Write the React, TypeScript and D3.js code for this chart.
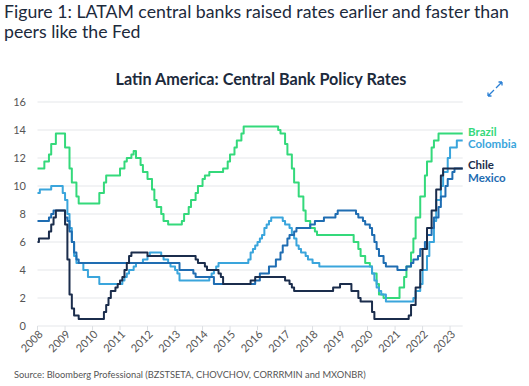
import { useRef, useEffect } from 'react';
import * as d3 from 'd3';

type Step = [string, number];

const brazil: Step[] = [
    ['2008-01', 11.25], ['2008-04', 11.75], ['2008-06', 12.25], ['2008-07', 13.0], ['2008-09', 13.75],
    ['2009-01', 12.75], ['2009-03', 11.25], ['2009-04', 10.25], ['2009-06', 9.25], ['2009-07', 8.75],
    ['2010-04', 9.5], ['2010-06', 10.25], ['2010-07', 10.75], ['2011-01', 11.25], ['2011-03', 11.75],
    ['2011-04', 12.0], ['2011-06', 12.25], ['2011-07', 12.5], ['2011-08', 12.0], ['2011-10', 11.5],
    ['2011-11', 11.0], ['2012-01', 10.5], ['2012-03', 9.75], ['2012-04', 9.0], ['2012-05', 8.5],
    ['2012-07', 8.0], ['2012-08', 7.5], ['2012-10', 7.25], ['2013-04', 7.5], ['2013-05', 8.0],
    ['2013-07', 8.5], ['2013-08', 9.0], ['2013-10', 9.5], ['2013-11', 10.0], ['2014-01', 10.5],
    ['2014-02', 10.75], ['2014-04', 11.0], ['2014-10', 11.25], ['2014-12', 11.75], ['2015-01', 12.25],
    ['2015-03', 12.75], ['2015-04', 13.25], ['2015-06', 13.75], ['2015-07', 14.25], ['2016-10', 14.0],
    ['2016-11', 13.75], ['2017-01', 13.0], ['2017-02', 12.25], ['2017-04', 11.25], ['2017-05', 10.25],
    ['2017-07', 9.25], ['2017-09', 8.25], ['2017-10', 7.5], ['2017-12', 7.0], ['2018-02', 6.75],
    ['2018-03', 6.5], ['2019-07', 6.0], ['2019-09', 5.5], ['2019-10', 5.0], ['2019-12', 4.5],
    ['2020-02', 4.25], ['2020-03', 3.75], ['2020-05', 3.0], ['2020-06', 2.25], ['2020-08', 2.0],
    ['2021-03', 2.75], ['2021-05', 3.5], ['2021-06', 4.25], ['2021-08', 5.25], ['2021-09', 6.25],
    ['2021-10', 7.75], ['2021-12', 9.25], ['2022-02', 10.75], ['2022-03', 11.75], ['2022-05', 12.75],
    ['2022-06', 13.25], ['2022-08', 13.75],
];

const colombia: Step[] = [
    ['2008-01', 9.5], ['2008-02', 9.75], ['2008-07', 10.0], ['2008-12', 9.5], ['2009-01', 9.0],
    ['2009-02', 8.0], ['2009-03', 7.0], ['2009-04', 6.0], ['2009-05', 5.0], ['2009-06', 4.5],
    ['2009-09', 4.0], ['2009-11', 3.5], ['2010-04', 3.0], ['2011-02', 3.25], ['2011-03', 3.5],
    ['2011-04', 3.75], ['2011-05', 4.0], ['2011-07', 4.25], ['2011-08', 4.5], ['2011-11', 4.75],
    ['2012-01', 5.0], ['2012-02', 5.25], ['2012-07', 5.0], ['2012-08', 4.75], ['2012-10', 4.5],
    ['2012-11', 4.25], ['2013-01', 4.0], ['2013-02', 3.75], ['2013-03', 3.25], ['2014-04', 3.5],
    ['2014-05', 3.75], ['2014-06', 4.0], ['2014-07', 4.25], ['2014-08', 4.5], ['2015-09', 4.75],
    ['2015-10', 5.25], ['2015-11', 5.5], ['2015-12', 5.75], ['2016-01', 6.0], ['2016-02', 6.25],
    ['2016-03', 6.5], ['2016-04', 7.0], ['2016-05', 7.25], ['2016-06', 7.5], ['2016-07', 7.75],
    ['2016-12', 7.5], ['2017-01', 7.25], ['2017-03', 7.0], ['2017-04', 6.5], ['2017-05', 6.25],
    ['2017-06', 5.75], ['2017-07', 5.5], ['2017-08', 5.25], ['2017-10', 5.0], ['2017-11', 4.75],
    ['2018-01', 4.5], ['2018-04', 4.25], ['2020-03', 3.75], ['2020-04', 3.25], ['2020-05', 2.75],
    ['2020-06', 2.5], ['2020-07', 2.25], ['2020-09', 1.75], ['2021-09', 2.0], ['2021-10', 2.5],
    ['2021-12', 3.0], ['2022-01', 4.0], ['2022-03', 5.0], ['2022-04', 6.0], ['2022-06', 7.5],
    ['2022-07', 9.0], ['2022-09', 10.0], ['2022-10', 11.0], ['2022-12', 12.0], ['2023-01', 12.75],
    ['2023-04', 13.25],
];

const chile: Step[] = [
    ['2008-01-01', 6.0], ['2008-01-20', 6.25], ['2008-06', 6.75], ['2008-07', 7.25], ['2008-08', 7.75],
    ['2008-09', 8.25], ['2009-01', 7.25], ['2009-02', 4.75], ['2009-03', 2.25], ['2009-04', 1.25],
    ['2009-05', 0.75], ['2009-07', 0.5], ['2010-06', 1.0], ['2010-07', 1.5], ['2010-08', 2.0],
    ['2010-09', 2.5], ['2010-11', 2.75], ['2010-12', 3.0], ['2011-01', 3.25], ['2011-02', 3.5],
    ['2011-03', 4.0], ['2011-04', 4.5], ['2011-05', 5.0], ['2011-06', 5.25], ['2012-01', 5.0],
    ['2013-10', 4.75], ['2013-11', 4.5], ['2014-02', 4.25], ['2014-03', 4.0], ['2014-08', 3.75],
    ['2014-09', 3.5], ['2014-10', 3.0], ['2015-10', 3.25], ['2015-12', 3.5], ['2017-01', 3.25],
    ['2017-03', 3.0], ['2017-04', 2.75], ['2017-05', 2.5], ['2018-10', 2.75], ['2019-01', 3.0],
    ['2019-06', 2.5], ['2019-09', 2.0], ['2019-10', 1.75], ['2020-03', 1.0], ['2020-04', 0.5],
    ['2021-07', 0.75], ['2021-08', 1.5], ['2021-10', 2.75], ['2021-12', 4.0], ['2022-01', 5.5],
    ['2022-03', 7.0], ['2022-05', 8.25], ['2022-07', 9.75], ['2022-09', 10.75], ['2022-10', 11.25],
];

const mexico: Step[] = [
    ['2008-01', 7.5], ['2008-06', 7.75], ['2008-07', 8.0], ['2008-08', 8.25], ['2009-01', 7.75],
    ['2009-02', 7.5], ['2009-03', 6.75], ['2009-04', 6.0], ['2009-05', 5.25], ['2009-06', 4.75],
    ['2009-07', 4.5], ['2013-03', 4.0], ['2013-09', 3.75], ['2013-10', 3.5], ['2014-06', 3.0],
    ['2015-12', 3.25], ['2016-02', 3.75], ['2016-06', 4.25], ['2016-09', 4.75], ['2016-11', 5.25],
    ['2016-12', 5.75], ['2017-02', 6.25], ['2017-03', 6.5], ['2017-05', 6.75], ['2017-06', 7.0],
    ['2017-12', 7.25], ['2018-02', 7.5], ['2018-06', 7.75], ['2018-11', 8.0], ['2018-12', 8.25],
    ['2019-08', 8.0], ['2019-09', 7.75], ['2019-11', 7.5], ['2019-12', 7.25], ['2020-02', 7.0],
    ['2020-03', 6.5], ['2020-04', 6.0], ['2020-05', 5.5], ['2020-06', 5.0], ['2020-08', 4.5],
    ['2020-09', 4.25], ['2021-02', 4.0], ['2021-06', 4.25], ['2021-08', 4.5], ['2021-09', 4.75],
    ['2021-11', 5.0], ['2021-12', 5.5], ['2022-02', 6.0], ['2022-03', 6.5], ['2022-05', 7.0],
    ['2022-06', 7.75], ['2022-08', 8.5], ['2022-09', 9.25], ['2022-11', 10.0], ['2022-12', 10.5],
    ['2023-02', 11.0], ['2023-03', 11.25],
];

const yearTicks = d3.range(2008, 2024);
const rateTicks = d3.range(0, 17, 2);
const lastDate = '2023-06-18';

const series = [
    { name: 'Brazil', data: brazil, color: '#34d97b', labelY: 136 },
    { name: 'Colombia', data: colombia, color: '#3aa5dc', labelY: 148 },
    { name: 'Mexico', data: mexico, color: '#1f6db2', labelY: 181.5 },
    { name: 'Chile', data: chile, color: '#1b2d4c', labelY: 168.5 },
];

const FONT = 'Lato, "Noto Sans", sans-serif';

const App = () => {
    const svgRef = useRef<SVGSVGElement | null>(null);

    useEffect(() => {
        const svgElement = svgRef.current;
        if (!svgElement) return;
        const width = 529;
        const height = 386;

        const svg = d3.select(svgElement).attr('width', width).attr('height', height);
        svg.selectAll('*').remove();

        const parse = (s: string) => (s.length === 7 ? d3.timeParse('%Y-%m')(s) : d3.timeParse('%Y-%m-%d')(s)) as Date;

        const x = d3.scaleTime()
            .domain([new Date(2008, 0, 1), parse(lastDate)])
            .range([37.5, 462.7]);

        const y = d3.scaleLinear()
            .domain([0, 16])
            .range([326, 102]);

        // titles
        const figTitle = svg.append('text')
            .attr('x', 4)
            .style('font-family', FONT)
            .style('font-size', '17.7px')
            .style('fill', '#1c2a3c');
        figTitle.append('tspan').attr('x', 4).attr('y', 18).text('Figure 1: LATAM central banks raised rates earlier and faster than');
        figTitle.append('tspan').attr('x', 4).attr('y', 38).text('peers like the Fed');

        svg.append('text')
            .attr('x', 261)
            .attr('y', 85)
            .attr('text-anchor', 'middle')
            .style('font-family', FONT)
            .style('font-weight', 'bold')
            .style('font-size', '16.2px')
            .style('fill', '#1c2a3c')
            .text('Latin America: Central Bank Policy Rates');

        // expand icon
        const icon = svg.append('g')
            .attr('fill', 'none')
            .attr('stroke', '#2a7fd4')
            .attr('stroke-width', 1.3);
        icon.append('path').attr('d', 'M488,96 L494,90 M488,96 L488,92.5 M488,96 L491.5,96');
        icon.append('path').attr('d', 'M496,88 L502,82 M502,82 L498.5,82 M502,82 L502,85.5');

        // grid
        svg.append('g')
            .selectAll('line')
            .data(rateTicks)
            .join('line')
            .attr('x1', x.range()[0])
            .attr('x2', x.range()[1])
            .attr('y1', d => y(d))
            .attr('y2', d => y(d))
            .attr('stroke', '#e5e7ea')
            .attr('stroke-width', 1);

        svg.append('g')
            .selectAll('text')
            .data(rateTicks)
            .join('text')
            .attr('x', 26)
            .attr('y', d => y(d) + 4)
            .attr('text-anchor', 'end')
            .style('font-family', FONT)
            .style('font-size', '11px')
            .style('fill', '#555')
            .text(d => d);

        // x ticks
        const xAxis = svg.append('g');
        xAxis.selectAll('line')
            .data(yearTicks)
            .join('line')
            .attr('x1', d => x(new Date(d, 0, 1)))
            .attr('x2', d => x(new Date(d, 0, 1)))
            .attr('y1', 326)
            .attr('y2', 330)
            .attr('stroke', '#dcdfe3');
        xAxis.selectAll('text')
            .data(yearTicks)
            .join('text')
            .attr('transform', d => `translate(${x(new Date(d, 0, 1)) + 6},${335}) rotate(-45)`)
            .attr('text-anchor', 'end')
            .style('font-family', FONT)
            .style('font-size', '11px')
            .style('fill', '#555')
            .text(d => d);

        // lines
        const line = d3.line<[Date, number]>()
            .x(d => x(d[0]))
            .y(d => y(d[1]))
            .curve(d3.curveStepAfter);

        series.forEach(s => {
            const pts: [Date, number][] = s.data.map(d => [parse(d[0]), d[1]]);
            pts.push([parse(lastDate), s.data[s.data.length - 1][1]]);
            svg.append('path')
                .datum(pts)
                .attr('fill', 'none')
                .attr('stroke', s.color)
                .attr('stroke-width', 2)
                .attr('stroke-linejoin', 'round')
                .attr('d', line);

            svg.append('text')
                .attr('x', 468)
                .attr('y', s.labelY)
                .style('font-family', FONT)
                .style('font-weight', 'bold')
                .style('font-size', '11.5px')
                .style('fill', s.color)
                .text(s.name);
        });

        svg.append('text')
            .attr('x', 14)
            .attr('y', 378)
            .style('font-family', FONT)
            .style('font-size', '9.3px')
            .style('fill', '#555')
            .text('Source: Bloomberg Professional (BZSTSETA, CHOVCHOV, CORRRMIN and MXONBR)');
    }, []);

    return (
        <div style={{ position: 'absolute', left: 0, top: 0, width: 529, height: 386, background: '#fff' }}>
            <svg ref={svgRef} style={{ display: 'block' }}></svg>
        </div>
    );
};

export default App;
